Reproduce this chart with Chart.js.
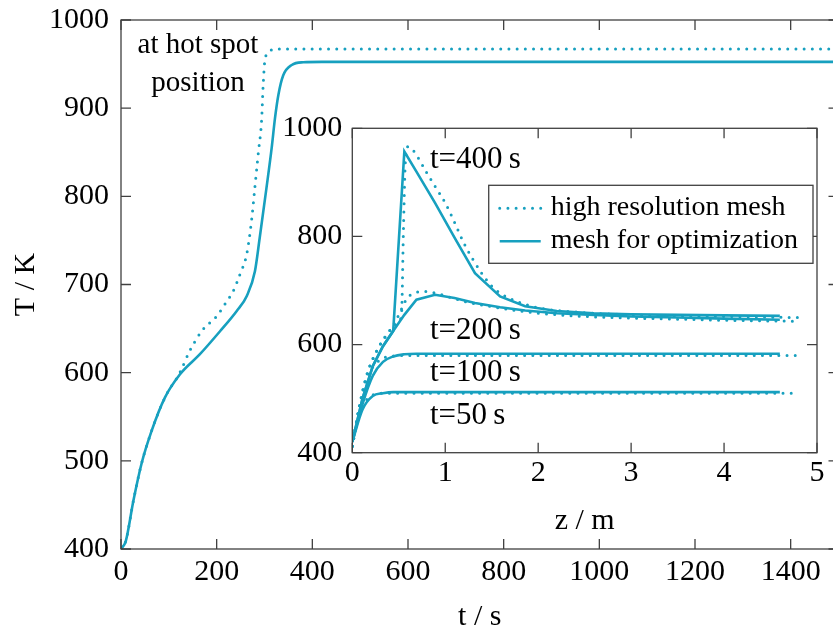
<!DOCTYPE html>
<html>
<head>
<meta charset="utf-8">
<script src="https://cdn.jsdelivr.net/npm/chart.js@4"></script>
<style>
  html, body { margin: 0; padding: 0; background: #fff; overflow: hidden; }
  #wrap { position: relative; width: 833px; height: 633px; overflow: hidden; }
  #main { position: absolute; left: 0; top: 0; }
  #inset { position: absolute; left: 270px; top: 100px; }
</style>
</head>
<body>
<div id="wrap">
  <canvas id="main" width="845" height="633"></canvas>
  <canvas id="inset" width="563" height="445"></canvas>
</div>
<script>
const teal = "#17a0bf";
const frameColor = "#404040";
const FONT = "'Liberation Serif', 'Times New Roman', serif";

const seriesNames = ["high resolution mesh", "mesh for optimization"];

// temperature at the hot spot position over time
const tHigh = [0, 10, 26, 43, 64, 92, 123, 144, 170, 200, 220, 235, 249, 263, 273, 280, 287, 294, 297, 301, 311, 325, 360, 600, 1000, 1500];
const THigh = [400, 409, 455, 497, 534, 572, 600, 625, 648, 664, 680, 693, 712, 735, 773, 811, 849, 887, 924, 955, 965, 967, 967, 967, 967, 967];
const tOpt = [0, 10, 26, 43, 64, 92, 123, 165, 207, 242, 263, 280, 290, 304, 315, 322, 329, 339, 357, 381, 420, 600, 1000, 1500];
const TOpt = [400, 409, 455, 497, 534, 572, 598, 621, 647, 670, 687, 715, 753, 809, 855, 889, 915, 937, 949, 952, 952.5, 952.5, 952.5, 952.5];

const timeTicks = [0, 200, 400, 600, 800, 1000, 1200, 1400];
const tempTicks = [400, 500, 600, 700, 800, 900, 1000];

// inset: axial profiles T(z) at several times
const profileTimes = ["t=400\u2009s", "t=200\u2009s", "t=100\u2009s", "t=50\u2009s"];
const zHigh = [0, 0.05, 0.1, 0.15, 0.2, 0.3, 0.4, 0.45, 0.5, 0.53, 0.55, 0.57, 0.6, 0.65, 0.7, 0.8, 0.9, 1.0, 1.1, 1.2, 1.3, 1.4, 1.5, 1.6, 1.8, 2.0, 2.5, 3.0, 3.5, 4.0, 4.8];
const THigh400 = [412, 462, 505, 540, 565, 600, 625, 633, 643, 658, 810, 935, 966, 960, 948, 918, 890, 862, 826, 788, 757, 730, 708, 694, 678, 668, 659, 655, 653, 652, 650];
const THigh200 = [412, 462, 505, 540, 565, 600, 625, 638, 655, 666, 673, 680, 688, 694, 697, 698, 695, 690, 685, 680, 676, 673, 670, 667, 662, 658, 652, 649, 647, 645, 643];
const THigh100 = [412, 462, 502, 532, 553, 572, 578, 579, 580, 580, 580, 580, 580, 580, 580, 580, 580, 580, 580, 580, 580, 580, 580, 580, 580, 580, 580, 580, 580, 580, 580];
const THigh50 = [412, 455, 482, 497, 505, 510, 510, 510, 510, 510, 510, 510, 510, 510, 510, 510, 510, 510, 510, 510, 510, 510, 510, 510, 510, 510, 510, 510, 510, 510, 510];

const zMesh = [0, 0.11, 0.22, 0.33, 0.44, 0.56, 0.69, 0.89, 1.1, 1.32, 1.59, 1.86, 2.2, 2.6, 3.0, 3.5, 4.0, 4.6];
const TOpt400 = [420, 500, 560, 597, 625, 957, 920, 862, 798, 732, 689, 671, 662, 658, 656, 655, 654, 653];
const TOpt200 = [420, 500, 560, 597, 625, 655, 683, 692, 686, 677, 669, 663, 658, 655, 652, 650, 648, 646];
const TOpt100 = [420, 490, 542, 568, 578, 582, 583, 583, 583, 583, 583, 583, 583, 583, 583, 583, 583, 583];
const TOpt50 = [420, 480, 505, 510, 512, 512, 512, 512, 512, 512, 512, 512, 512, 512, 512, 512, 512, 512];

const zTicks = [0, 1, 2, 3, 4, 5];
const insetTempTicks = [400, 600, 800, 1000];

const pts = (xs, ys) => xs.map((v, i) => ({ x: v, y: ys[i] }));

const dotted = (label, data) => ({
  label, data, borderColor: teal, borderWidth: 3, borderDash: [0, 8.2],
  borderCapStyle: "round", pointRadius: 0, cubicInterpolationMode: "monotone"
});
const solid = (label, data, smooth) => ({
  label, data, borderColor: teal, borderWidth: 2.6, pointRadius: 0,
  cubicInterpolationMode: smooth ? "monotone" : "default", tension: 0
});

const tickFont = { family: FONT, size: 30, lineHeight: 1.2 };
const titleFont = { family: FONT, size: 30, lineHeight: 1 };

function fixedTicks(list) {
  return s => { s.ticks = list.map(v => ({ value: v })); };
}
function fixedSize(w, h) {
  return s => {
    if (w != null) s.width = w;
    if (h != null) s.height = h;
    s.paddingTop = 0; s.paddingBottom = 0; s.paddingLeft = 0; s.paddingRight = 0;
  };
}

// draws the closed frame with inward ticks, free texts and an optional legend box
function framePlugin(texts, legend) {
  return {
    id: "frame",
    afterDatasetsDraw(chart) {
      const { ctx, chartArea: a, scales: { x, y } } = chart;
      const len = 10;
      ctx.save();
      ctx.strokeStyle = frameColor;
      ctx.lineWidth = 1.3;
      ctx.beginPath();
      x.ticks.forEach(t => {
        const px = x.getPixelForValue(t.value);
        ctx.moveTo(px, a.bottom); ctx.lineTo(px, a.bottom - len);
        ctx.moveTo(px, a.top); ctx.lineTo(px, a.top + len);
      });
      y.ticks.forEach(t => {
        const py = y.getPixelForValue(t.value);
        ctx.moveTo(a.left, py); ctx.lineTo(a.left + len, py);
        ctx.moveTo(a.right, py); ctx.lineTo(a.right - len, py);
      });
      ctx.stroke();
      ctx.strokeRect(a.left, a.top, a.right - a.left, a.bottom - a.top);

      ctx.fillStyle = "#000";
      ctx.textBaseline = "alphabetic";
      texts.forEach(t => {
        ctx.font = t.size + "px " + FONT;
        ctx.textAlign = t.align;
        ctx.fillText(t.text, x.getPixelForValue(t.x), y.getPixelForValue(t.y));
      });

      if (legend) {
        ctx.font = "28px " + FONT;
        const tw = Math.max(...legend.map(l => ctx.measureText(l.text).width));
        const w = 9 + 43 + 10 + tw + 15, h = 78;
        const x0 = a.right - 4 - w, y0 = a.top + 57;
        ctx.fillStyle = "#fff";
        ctx.fillRect(x0, y0, w, h);
        ctx.strokeStyle = frameColor;
        ctx.lineWidth = 1.3;
        ctx.strokeRect(x0, y0, w, h);
        legend.forEach((l, i) => {
          const ds = chart.data.datasets[l.dataset];
          const ly = y0 + 23 + i * 33;
          ctx.save();
          ctx.strokeStyle = ds.borderColor;
          ctx.lineWidth = ds.borderWidth;
          ctx.lineCap = ds.borderCapStyle || "butt";
          ctx.setLineDash(ds.borderDash || []);
          ctx.beginPath();
          ctx.moveTo(x0 + 11, ly); ctx.lineTo(x0 + 52, ly);
          ctx.stroke();
          ctx.restore();
          ctx.fillStyle = "#000";
          ctx.textAlign = "left";
          ctx.fillText(l.text, x0 + 62, ly + 7);
        });
      }
      ctx.restore();
    }
  };
}

const hotSpotTexts = [
  { text: "at hot spot", x: 161, y: 963, size: 29, align: "center" },
  { text: "position", x: 161, y: 920, size: 29, align: "center" }
];

new Chart(document.getElementById("main"), {
  type: "line",
  data: {
    datasets: [
      dotted(seriesNames[0], pts(tHigh, THigh)),
      solid(seriesNames[1], pts(tOpt, TOpt), true)
    ]
  },
  options: {
    responsive: false,
    animation: false,
    devicePixelRatio: 1,
    events: [],
    layout: { padding: { left: 0, top: 20, right: 6.5, bottom: 0 } },
    plugins: { legend: { display: false }, tooltip: { enabled: false } },
    scales: {
      x: {
        type: "linear", min: 0, max: 1500,
        afterBuildTicks: fixedTicks(timeTicks),
        afterFit: fixedSize(null, 84),
        grid: { display: false, drawTicks: false },
        border: { display: false },
        ticks: { font: tickFont, color: "#000", padding: 5, callback: v => String(v) },
        title: { display: true, text: "t / s", font: titleFont, color: "#000", padding: { top: 0, bottom: 1 } }
      },
      y: {
        type: "linear", min: 400, max: 1000,
        afterBuildTicks: fixedTicks(tempTicks),
        afterFit: fixedSize(121, null),
        grid: { display: false, drawTicks: false },
        border: { display: false },
        ticks: { font: tickFont, color: "#000", padding: 12, callback: v => String(v) },
        title: { display: true, text: "T / K", font: titleFont, color: "#000", padding: { top: 11, bottom: 0 } }
      }
    }
  },
  plugins: [framePlugin(hotSpotTexts)]
});

const profileTexts = [
  { text: profileTimes[0], x: 0.836, y: 926, size: 31, align: "left" },
  { text: profileTimes[1], x: 0.836, y: 611, size: 31, align: "left" },
  { text: profileTimes[2], x: 0.836, y: 532, size: 31, align: "left" },
  { text: profileTimes[3], x: 0.836, y: 453, size: 31, align: "left" }
];

new Chart(document.getElementById("inset"), {
  type: "line",
  data: {
    datasets: [
      dotted(seriesNames[0], pts(zHigh, THigh400)),
      solid(seriesNames[1], pts(zMesh, TOpt400), false),
      dotted(seriesNames[0], pts(zHigh, THigh200)),
      solid(seriesNames[1], pts(zMesh, TOpt200), false),
      dotted(seriesNames[0], pts(zHigh, THigh100)),
      solid(seriesNames[1], pts(zMesh, TOpt100), true),
      dotted(seriesNames[0], pts(zHigh, THigh50)),
      solid(seriesNames[1], pts(zMesh, TOpt50), true)
    ]
  },
  options: {
    responsive: false,
    animation: false,
    devicePixelRatio: 1,
    events: [],
    layout: { padding: { left: 0, top: 28.3, right: 16, bottom: 0 } },
    plugins: { legend: { display: false }, tooltip: { enabled: false } },
    scales: {
      x: {
        type: "linear", min: 0, max: 5,
        afterBuildTicks: fixedTicks(zTicks),
        afterFit: fixedSize(null, 92.3),
        grid: { display: false, drawTicks: false },
        border: { display: false },
        ticks: { font: tickFont, color: "#000", padding: 2, callback: v => String(v) },
        title: { display: true, text: "z / m", font: titleFont, color: "#000", padding: { top: 0, bottom: 9 } }
      },
      y: {
        type: "linear", min: 400, max: 1000,
        afterBuildTicks: fixedTicks(insetTempTicks),
        afterFit: fixedSize(82.3, null),
        grid: { display: false, drawTicks: false },
        border: { display: false },
        ticks: { font: tickFont, color: "#000", padding: 10, callback: v => String(v) }
      }
    }
  },
  plugins: [framePlugin(profileTexts, [
    { text: seriesNames[0], dataset: 0 },
    { text: seriesNames[1], dataset: 1 }
  ])]
});
</script>
</body>
</html>
